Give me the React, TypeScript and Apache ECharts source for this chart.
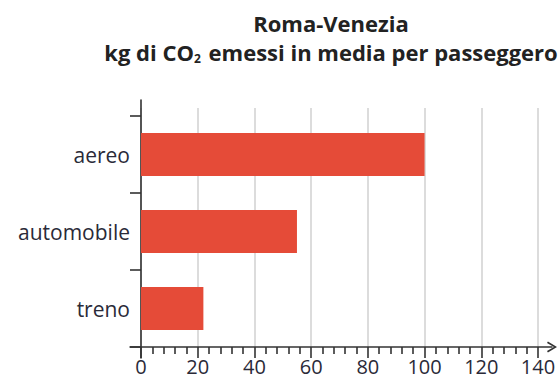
import React, { useEffect, useRef } from "react";
import * as echarts from "echarts";

const categories = ["aereo", "automobile", "treno"];
const values = [100, 55, 22];
const xMin = 0;
const xMax = 140;
const xStep = 20;
const titleLine1 = "Roma-Venezia";
const titleLine2a = "kg di CO";
const titleSub = "2";
const titleLine2b = " emessi in media per passeggero";

const FONT = "'Open Sans', 'Noto Sans', sans-serif";
const TXT = "#2a2a38";

export default function App() {
  const ref = useRef<HTMLDivElement>(null);
  useEffect(() => {
    if (!ref.current) return;
    const chart = echarts.init(ref.current, null, { renderer: "svg" });
    const hiddenX = (gridIndex: number) => ({ type: "value", gridIndex, show: false, min: xMin, max: xMax });
    const hiddenY = (gridIndex: number) => ({ type: "value", gridIndex, show: false });
    chart.setOption({
      animation: false,
      backgroundColor: "#ffffff",
      title: {
        text: `{t|${titleLine1}}\n{t|${titleLine2a}}{s|${titleSub}}{t|${titleLine2b}}`,
        left: 326,
        top: 3,
        textAlign: "center",
        textStyle: {
          fontFamily: FONT,
          fontWeight: "bold",
          fontSize: 22,
          color: "#222",
          lineHeight: 29,
          rich: {
            t: { fontFamily: FONT, fontWeight: "bold", fontSize: 22, color: "#222", lineHeight: 29 },
            s: { fontFamily: FONT, fontWeight: "bold", fontSize: 12, color: "#222", lineHeight: 29, verticalAlign: "bottom", padding: [0, 2, 2, 0] },
          },
        },
      },
      grid: [
        { left: 141, right: 22, top: 108, bottom: 34 },
        { left: 141, right: 22, top: 116, bottom: 34 },
        { left: 130, right: 8, top: 108, bottom: 34 },
        { left: 141, right: 22, top: 100, bottom: 23 },
      ],
      xAxis: [
        {
          type: "value",
          gridIndex: 0,
          min: xMin,
          max: xMax,
          interval: xStep,
          axisLine: { show: false },
          axisTick: { show: false },
          axisLabel: { show: false },
          splitLine: { show: true, lineStyle: { color: "#d0d0d0", width: 1.5 } },
        },
        {
          type: "value",
          gridIndex: 1,
          min: xMin,
          max: xMax,
          interval: xStep,
          axisLine: { show: false },
          axisTick: { show: true, length: 11, lineStyle: { color: "#333", width: 1.6 } },
          minorTick: { show: true, splitNumber: 5, length: 7, lineStyle: { color: "#333", width: 1.6 } },
          axisLabel: { show: true, margin: 9, fontFamily: FONT, fontSize: 20, color: TXT },
          splitLine: { show: false },
        },
        {
          type: "value",
          gridIndex: 2,
          min: 0,
          max: 1,
          axisLine: {
            show: true,
            lineStyle: { color: "#333", width: 1.5 },
            symbol: ["none", "path://M0,10 L6,0 L12,10 L10.4,11 L6,3.4 L1.6,11 Z"],
            symbolSize: [12, 10],
            symbolOffset: [0, 0],
          },
          axisTick: { show: false },
          axisLabel: { show: false },
          splitLine: { show: false },
        },
        hiddenX(3),
      ],
      yAxis: [
        hiddenY(0),
        {
          type: "category",
          gridIndex: 1,
          data: categories,
          inverse: true,
          axisLine: { show: false },
          axisTick: { show: true, length: 11, lineStyle: { color: "#333", width: 1.6 } },
          axisLabel: { margin: 11, fontFamily: FONT, fontSize: 21, color: TXT },
          splitLine: { show: false },
        },
        hiddenY(2),
        {
          type: "value",
          gridIndex: 3,
          axisLine: { show: true, onZero: false, lineStyle: { color: "#333", width: 1.6 } },
          axisTick: { show: false },
          axisLabel: { show: false },
          splitLine: { show: false },
        },
      ],
      series: [
        {
          type: "bar",
          xAxisIndex: 1,
          yAxisIndex: 1,
          data: values,
          barWidth: 43,
          itemStyle: { color: "#e54b38" },
        },
      ],
    });
    return () => chart.dispose();
  }, []);
  return <div ref={ref} style={{ width: 560, height: 381, position: "absolute", left: 0, top: 0 }} />;
}
